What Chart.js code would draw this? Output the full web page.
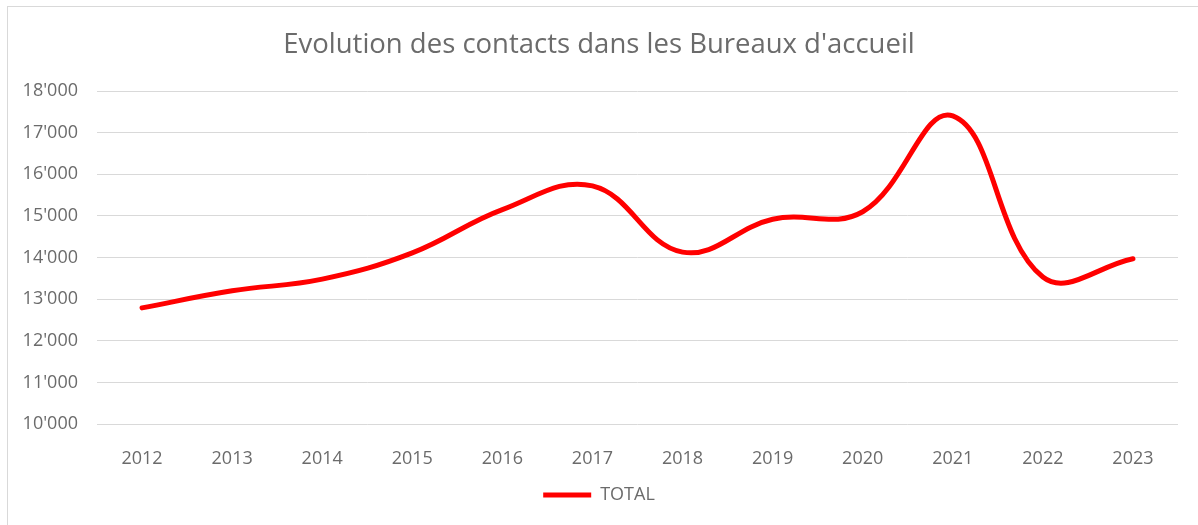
<!DOCTYPE html>
<html>
<head>
<meta charset="utf-8">
<script src="https://cdn.jsdelivr.net/npm/chart.js@4"></script>
<style>
  body { margin: 0; background: #fff; overflow: hidden; }
  #frame { position: absolute; left: 7px; top: 6px; width: 1300px; height: 700px;
           border-left: 1px solid #d9d9d9; border-top: 1px solid #d9d9d9; }
  #wrap { position: absolute; left: 0; top: 0; width: 1198px; height: 525px; }
</style>
</head>
<body>
<div id="frame"></div>
<div id="wrap"><canvas id="chart" width="1198" height="525"></canvas></div>
<script>
// values
var years = ['2012', '2013', '2014', '2015', '2016', '2017', '2018', '2019', '2020', '2021', '2022', '2023'];
var total = [12790, 13200, 13480, 14110, 15150, 15720, 14130, 14920, 15100, 17400, 13530, 13970];
var yTicks = [10000, 11000, 12000, 13000, 14000, 15000, 16000, 17000, 18000];

var textGrey = '#6b6b6b';
var font = 'Open Sans';

function swissNumber(v){
    return Math.round(v).toString().replace(/\B(?=(\d{3})+(?!\d))/g, "'");
}

new Chart(document.getElementById('chart'), {
    type: 'line',
    data: {
        labels: years,
        datasets: [{
            label: 'TOTAL',
            data: total,
            borderColor: '#ff0000',
            backgroundColor: '#ff0000',
            borderWidth: 5,
            borderCapStyle: 'round',
            pointRadius: 0,
            tension: 0.4,
            fill: false
        }]
    },
    options: {
        responsive: false,
        animation: false,
        layout: { padding: { left: 20, right: 20, top: 0, bottom: 11 } },
        plugins: {
            title: {
                display: true,
                text: "Evolution des contacts dans les Bureaux d'accueil",
                color: textGrey,
                font: { family: font, size: 27.5, weight: 'normal' },
                padding: { top: 29, bottom: 29 }
            },
            legend: {
                position: 'bottom',
                labels: {
                    color: textGrey,
                    font: { family: font, size: 18 },
                    boxWidth: 48,
                    boxHeight: 5,
                    padding: 10,
                    useBorderRadius: true,
                    borderRadius: 2.5,
                    generateLabels: function(chart){
                        return chart.data.datasets.map(function(ds, i){
                            return { text: ds.label, fillStyle: ds.borderColor, strokeStyle: ds.borderColor,
                                     lineWidth: 0, datasetIndex: i, fontColor: textGrey };
                        });
                    }
                }
            },
            tooltip: { enabled: false }
        },
        scales: {
            x: {
                offset: true,
                grid: { display: false, offset: true },
                border: { display: false },
                ticks: { color: textGrey, font: { family: font, size: 18 }, padding: 16, maxRotation: 0 },
                afterFit: function(scale){ scale.height = 52; }
            },
            y: {
                min: yTicks[0],
                max: yTicks[yTicks.length - 1],
                afterBuildTicks: function(scale){ scale.ticks = yTicks.map(function(v){ return { value: v }; }); },
                grid: { color: '#d9d9d9', lineWidth: 1, drawTicks: false },
                border: { display: false },
                ticks: { color: textGrey, font: { family: font, size: 18 }, padding: 19,
                         callback: function(v){ return swissNumber(v); } },
                afterFit: function(scale){ scale.width = 77; }
            }
        }
    }
});
</script>
</body>
</html>
